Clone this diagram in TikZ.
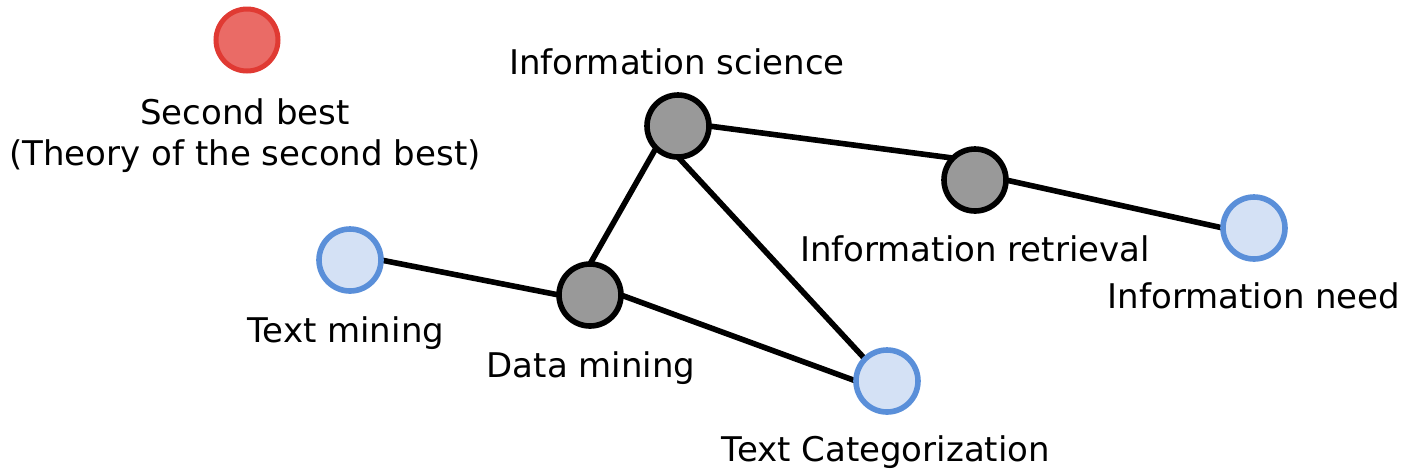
\documentclass[tikz,border=0pt]{standalone}
\usepackage{fontspec}
\usetikzlibrary{backgrounds}
\newfontfamily\lblfont{DejaVu Sans}
\definecolor{redfill}{HTML}{EA6B66}
\definecolor{redline}{HTML}{E03A33}
\definecolor{bluefill}{HTML}{D4E1F5}
\definecolor{blueline}{HTML}{5A8FD9}
\definecolor{grayfill}{HTML}{999999}
\begin{document}
\begin{tikzpicture}[x=0.5pt,y=-0.5pt,
  dot/.style={circle,minimum size=31pt,inner sep=0pt,outer sep=0pt,line width=2.8pt},
  hubdot/.style={dot,draw=black,fill=grayfill},
  leafdot/.style={dot,draw=blueline,fill=bluefill},
  loosedot/.style={dot,draw=redline,fill=redfill,line width=2.5pt},
  lbl/.style={anchor=base,inner sep=0pt,font=\lblfont\fontsize{17}{20}\selectfont},
  link/.style={line width=2.8pt,black}]
\useasboundingbox (0,0) rectangle (1410,473);

% nodes
\node[loosedot] (sb) at (247,40) {};
\node[hubdot]  (is) at (678,126) {};
\node[hubdot]  (ir) at (975,180) {};
\node[leafdot] (in) at (1254,228) {};
\node[leafdot] (tm) at (350,260) {};
\node[hubdot]  (dm) at (590,295) {};
\node[leafdot] (tc) at (887,381) {};

% connectors, kept behind the circles
\begin{pgfonlayer}{background}
\draw[link] (is.east) -- (ir.north west);
\draw[link] (ir.east) -- (in.west);
\draw[link] (is.south west) -- (dm.north);
\draw[link] (is.south) -- (tc.north west);
\draw[link] (tm.east) -- (dm.west);
\draw[link] (dm.east) -- (tc.west);
\end{pgfonlayer}

% labels
\node[lbl] (sbl1) at (245,124) {Second best};
\node[lbl] (sbl2) at (245,165) {(Theory of the second best)};
\node[lbl] (isl) at (677,74) {Information science};
\node[lbl] (irl) at (975,261) {Information retrieval};
\node[lbl] (inl) at (1254,308) {Information need};
\node[lbl] (tml) at (346,342) {Text mining};
\node[lbl] (dml) at (591,377) {Data mining};
\node[lbl] (tcl) at (886,461) {Text Categorization};
\end{tikzpicture}
\end{document}
